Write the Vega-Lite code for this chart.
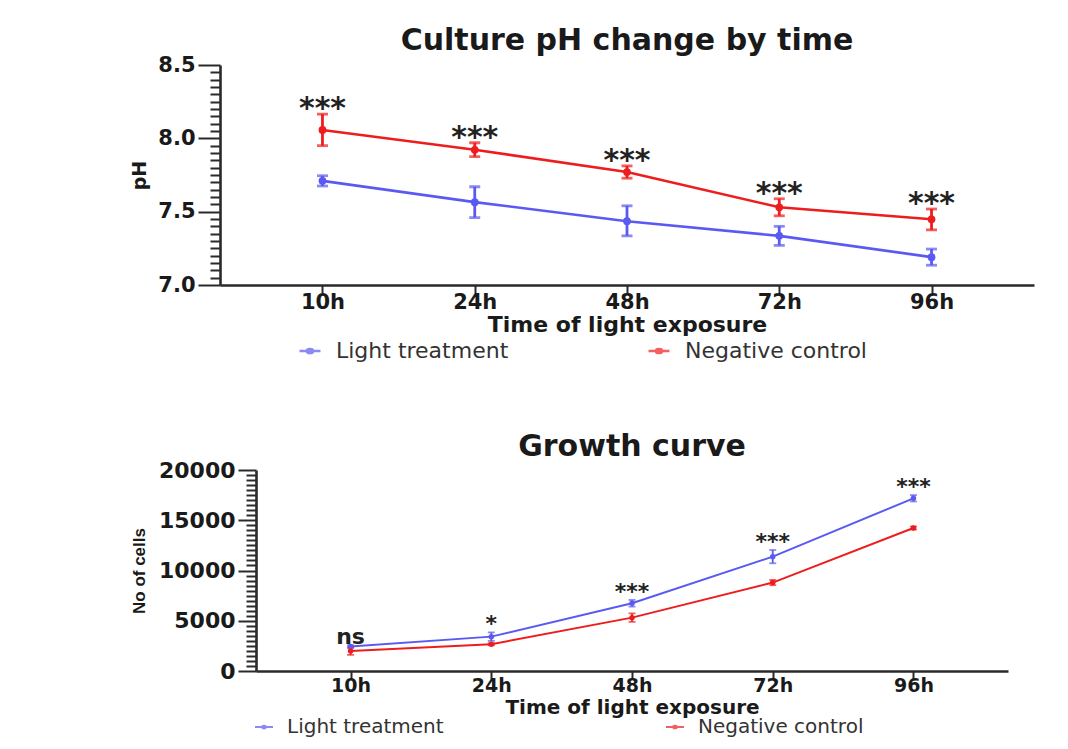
{
  "$schema": "https://vega.github.io/schema/vega-lite/v6.json",
  "background": "white",
  "padding": {"left": 130, "top": 26, "right": 10, "bottom": 5},
  "datasets": {
    "ph": [
      {"time": "10h", "series": "Light treatment", "mean": 7.71, "lo": 7.675, "hi": 7.745, "sig": "***"},
      {"time": "24h", "series": "Light treatment", "mean": 7.565, "lo": 7.46, "hi": 7.67, "sig": "***"},
      {"time": "48h", "series": "Light treatment", "mean": 7.435, "lo": 7.335, "hi": 7.54, "sig": "***"},
      {"time": "72h", "series": "Light treatment", "mean": 7.335, "lo": 7.27, "hi": 7.4, "sig": "***"},
      {"time": "96h", "series": "Light treatment", "mean": 7.19, "lo": 7.135, "hi": 7.245, "sig": "***"},
      {"time": "10h", "series": "Negative control", "mean": 8.057, "lo": 7.95, "hi": 8.165, "sig": "***"},
      {"time": "24h", "series": "Negative control", "mean": 7.922, "lo": 7.875, "hi": 7.97, "sig": "***"},
      {"time": "48h", "series": "Negative control", "mean": 7.77, "lo": 7.728, "hi": 7.812, "sig": "***"},
      {"time": "72h", "series": "Negative control", "mean": 7.53, "lo": 7.472, "hi": 7.588, "sig": "***"},
      {"time": "96h", "series": "Negative control", "mean": 7.448, "lo": 7.376, "hi": 7.518, "sig": "***"}
    ],
    "growth": [
      {"time": "10h", "series": "Light treatment", "mean": 2430, "lo": 2280, "hi": 2580, "sig": "ns"},
      {"time": "24h", "series": "Light treatment", "mean": 3420, "lo": 3000, "hi": 3840, "sig": "*"},
      {"time": "48h", "series": "Light treatment", "mean": 6740, "lo": 6410, "hi": 7070, "sig": "***"},
      {"time": "72h", "series": "Light treatment", "mean": 11380, "lo": 10720, "hi": 12040, "sig": "***"},
      {"time": "96h", "series": "Light treatment", "mean": 17180, "lo": 16870, "hi": 17500, "sig": "***"},
      {"time": "10h", "series": "Negative control", "mean": 1990, "lo": 1600, "hi": 2380, "sig": "ns"},
      {"time": "24h", "series": "Negative control", "mean": 2660, "lo": 2560, "hi": 2760, "sig": "*"},
      {"time": "48h", "series": "Negative control", "mean": 5310, "lo": 4890, "hi": 5730, "sig": "***"},
      {"time": "72h", "series": "Negative control", "mean": 8800, "lo": 8540, "hi": 9060, "sig": "***"},
      {"time": "96h", "series": "Negative control", "mean": 14230, "lo": 14080, "hi": 14380, "sig": "***"}
    ]
  },
  "spacing": 70,
  "resolve": {"scale": {"color": "independent"}, "legend": {"color": "independent"}},
  "vconcat": [
    {
      "width": 814,
      "height": 220,
      "title": {"text": "Culture pH change by time", "fontSize": 30, "offset": -2},
      "data": {"name": "ph"},
      "encoding": {
        "x": {
          "field": "time",
          "type": "nominal",
          "scale": {"type": "point", "domain": ["10h", "24h", "48h", "72h", "96h"], "padding": 0.673},
          "axis": {"title": "Time of light exposure", "labelAngle": 0, "tickSize": 8, "labelPadding": -2, "titlePadding": 2, "labelFontSize": 21, "titleFontSize": 22}
        },
        "color": {
          "field": "series",
          "type": "nominal",
          "scale": {"domain": ["Light treatment", "Negative control"], "range": ["#5a5af2", "#ee1d1d"]},
          "legend": {
            "title": null,
            "orient": "none",
            "legendX": 78,
            "legendY": 274,
            "direction": "horizontal",
            "columnPadding": 134,
            "labelOffset": 14,
            "labelFontSize": 22,
            "labelLimit": 400,
            "symbolSize": 440,
            "symbolStrokeWidth": 2.5,
            "symbolType": "M-1,0H1M-0.3,0A0.3,0.2 0 1 1 0.3,0A0.3,0.2 0 1 1 -0.3,0Z"
          }
        }
      },
      "layer": [
        {
          "mark": {"type": "line", "strokeWidth": 2.6},
          "encoding": {
            "y": {
              "field": "mean",
              "type": "quantitative",
              "title": "pH",
              "scale": {"domain": [7, 8.5], "nice": false, "zero": false},
              "axis": {
                "tickCount": 30,
                "labelOverlap": false,
                "labelFlush": false,
                "labelExpr": "abs(datum.value * 2 - round(datum.value * 2)) < 0.001 ? format(datum.value, '.1f') : ''",
                "tickSize": {"condition": {"test": "abs(datum.value * 2 - round(datum.value * 2)) < 0.001", "value": 22}, "value": 10},
                "labelPadding": 3,
                "labelFontSize": 21,
                "titleFontSize": 19,
                "titlePadding": 8
              }
            }
          }
        },
        {
          "mark": {"type": "errorbar", "ticks": true, "size": 11, "thickness": 2.8},
          "encoding": {
            "y": {"field": "lo", "type": "quantitative", "title": "pH"},
            "y2": {"field": "hi"}
          }
        },
        {
          "mark": {"type": "point", "filled": true, "size": 60, "opacity": 1},
          "encoding": {"y": {"field": "mean", "type": "quantitative", "title": "pH"}}
        },
        {
          "transform": [{"aggregate": [{"op": "max", "field": "hi", "as": "top"}], "groupby": ["time", "sig"]}],
          "mark": {"type": "text", "fontSize": 30, "fontWeight": "bold", "baseline": "alphabetic", "dy": 4, "font": "DejaVu Sans"},
          "encoding": {
            "y": {"field": "top", "type": "quantitative", "title": "pH"},
            "text": {"field": "sig"},
            "color": {"value": "#222222"}
          }
        }
      ]
    },
    {
      "width": 788,
      "height": 201,
      "title": {"text": "Growth curve", "fontSize": 30, "offset": -3, "dx": 18},
      "data": {"name": "growth"},
      "encoding": {
        "x": {
          "field": "time",
          "type": "nominal",
          "scale": {"type": "point", "domain": ["10h", "24h", "48h", "72h", "96h"], "range": [36, 788], "padding": 0.672},
          "axis": {"title": "Time of light exposure", "labelAngle": 0, "tickSize": 8, "labelPadding": -2.5, "titlePadding": 1.5, "labelFontSize": 19, "titleFontSize": 20}
        },
        "color": {
          "field": "series",
          "type": "nominal",
          "scale": {"domain": ["Light treatment", "Negative control"], "range": ["#5a5af2", "#ee1d1d"]},
          "legend": {
            "title": null,
            "orient": "none",
            "legendX": 34,
            "legendY": 247,
            "direction": "horizontal",
            "columnPadding": 218,
            "labelOffset": 13,
            "labelFontSize": 20,
            "labelLimit": 400,
            "symbolSize": 324,
            "symbolStrokeWidth": 2,
            "symbolType": "M-1,0H1M-0.2,0A0.2,0.15 0 1 1 0.2,0A0.2,0.15 0 1 1 -0.2,0Z"
          }
        }
      },
      "layer": [
        {
          "mark": {"type": "line", "strokeWidth": 2},
          "encoding": {
            "y": {
              "field": "mean",
              "type": "quantitative",
              "title": "No of cells",
              "scale": {"domain": [0, 20000], "nice": false},
              "axis": {
                "offset": -36,
                "tickCount": 40,
                "labelOverlap": false,
                "labelFlush": false,
                "labelExpr": "datum.value % 5000 == 0 ? format(datum.value, 'd') : ''",
                "tickSize": {"condition": {"test": "datum.value % 5000 == 0", "value": 18}, "value": 10},
                "labelPadding": 3,
                "labelFontSize": 22,
                "titleFont": "Liberation Sans",
                "titleFontSize": 17,
                "titlePadding": 10
              }
            }
          }
        },
        {
          "mark": {"type": "errorbar", "ticks": true, "size": 7, "thickness": 1.8},
          "encoding": {
            "y": {"field": "lo", "type": "quantitative", "title": "No of cells"},
            "y2": {"field": "hi"}
          }
        },
        {
          "mark": {"type": "point", "filled": true, "size": 30, "opacity": 1},
          "encoding": {"y": {"field": "mean", "type": "quantitative", "title": "No of cells"}}
        },
        {
          "transform": [{"aggregate": [{"op": "max", "field": "hi", "as": "top"}], "groupby": ["time", "sig"]}],
          "mark": {"type": "text", "fontSize": 22, "fontWeight": "bold", "baseline": "alphabetic", "dy": -1, "font": "DejaVu Sans"},
          "encoding": {
            "y": {"field": "top", "type": "quantitative", "title": "No of cells"},
            "text": {"field": "sig"},
            "color": {"value": "#222222"}
          }
        }
      ]
    }
  ],
  "config": {
    "font": "DejaVu Sans",
    "view": {"stroke": null},
    "title": {"font": "DejaVu Sans", "fontWeight": "bold", "color": "#1a1a1a", "anchor": "middle"},
    "axis": {
      "grid": false,
      "domainColor": "#2a2a2a",
      "domainWidth": 2.6,
      "tickColor": "#2a2a2a",
      "tickWidth": 2,
      "labelFont": "DejaVu Sans",
      "labelFontWeight": "bold",
      "labelColor": "#1a1a1a",
      "labelFontSize": 22,
      "titleFont": "DejaVu Sans",
      "titleFontWeight": "bold",
      "titleColor": "#1a1a1a",
      "titleFontSize": 24
    },
    "legend": {"labelFont": "DejaVu Sans", "labelColor": "#333333", "padding": 0}
  }
}
